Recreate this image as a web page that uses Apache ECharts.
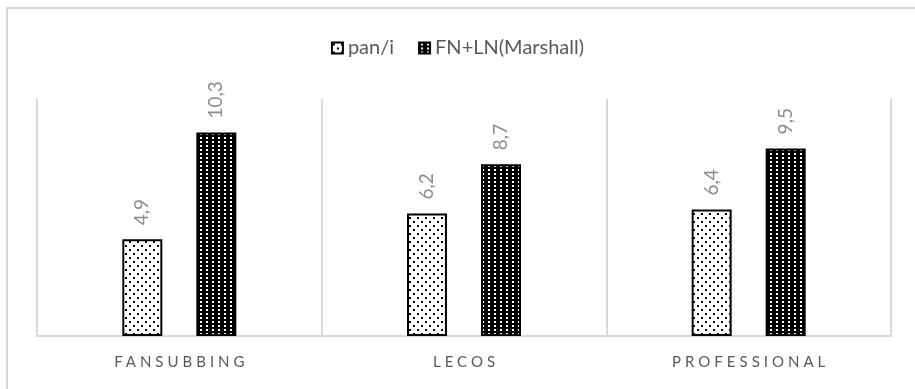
<!DOCTYPE html>
<html>
<head>
<meta charset="utf-8">
<script src="https://cdn.jsdelivr.net/npm/echarts@6/dist/echarts.min.js"></script>
<style>
  html, body { margin: 0; padding: 0; background: #fff; }
  #chart { width: 915px; height: 389px; }
</style>
</head>
<body>
<div id="chart"></div>
<script>
// Categories and series values
const categories = ['FANSUBBING', 'LECOS', 'PROFESSIONAL'];
const seriesNames = ['pan/i', 'FN+LN(Marshall)'];
const panValues = [4.9, 6.2, 6.4];
const fnlnValues = [10.3, 8.7, 9.5];

const FONT = 'Lato';
const TRACKING = 4;

// Tracked letter spacing for the category labels only
const spacedTexts = new Set(categories);
const origFill = CanvasRenderingContext2D.prototype.fillText;
CanvasRenderingContext2D.prototype.fillText = function (text, x, y, maxW) {
  if (spacedTexts.has(text) && 'letterSpacing' in this) {
    const prevAlign = this.textAlign;
    this.letterSpacing = TRACKING + 'px';
    const w = this.measureText(text).width;
    let sx = x;
    if (prevAlign === 'center') { this.textAlign = 'left'; sx = x - (w - TRACKING) / 2; }
    origFill.call(this, text, sx, y);
    this.letterSpacing = '0px';
    this.textAlign = prevAlign;
    return;
  }
  if ('letterSpacing' in this) this.letterSpacing = '0px';
  return maxW === undefined ? origFill.call(this, text, x, y) : origFill.call(this, text, x, y, maxW);
};

// Fill patterns
function dottedPattern() {
  const c = document.createElement('canvas');
  c.width = 8; c.height = 8;
  const g = c.getContext('2d');
  g.fillStyle = '#ffffff'; g.fillRect(0, 0, 8, 8);
  g.fillStyle = '#000000';
  g.fillRect(1, 1, 2, 2);
  g.fillRect(5, 5, 2, 2);
  return c;
}
function gridPattern() {
  const c = document.createElement('canvas');
  c.width = 6; c.height = 4;
  const g = c.getContext('2d');
  g.fillStyle = '#000000'; g.fillRect(0, 0, 6, 4);
  g.fillStyle = '#ffffff';
  g.fillRect(2, 1, 2, 2);
  return c;
}

const valueLabel = {
  show: true,
  position: 'top',
  distance: 14,
  rotate: 90,
  align: 'left',
  verticalAlign: 'middle',
  color: '#8c8c8c',
  fontFamily: FONT,
  fontSize: 19,
  formatter: p => String(p.value).replace('.', ',')
};

const chart = echarts.init(document.getElementById('chart'), null, { renderer: 'canvas' });
chart.setOption({
  animation: false,
  backgroundColor: '#ffffff',
  graphic: [{
    type: 'rect',
    shape: { x: 7, y: 8, width: 1000, height: 500 },
    style: { fill: 'none', stroke: '#d9d9d9', lineWidth: 2 },
    silent: true,
    z: -10
  }],
  legend: {
    top: 33,
    left: 'center',
    icon: 'rect',
    itemWidth: 11,
    itemHeight: 11,
    itemGap: 24,
    textStyle: { color: '#595959', fontFamily: FONT, fontSize: 20 },
    data: seriesNames
  },
  grid: { left: 37, right: 24, top: 99, bottom: 53 },
  xAxis: {
    type: 'category',
    data: categories,
    axisLine: { show: true, lineStyle: { color: '#d9d9d9', width: 2 } },
    axisTick: { show: false },
    splitLine: { show: true, lineStyle: { color: '#d9d9d9', width: 2 } },
    axisLabel: { color: '#595959', fontFamily: FONT, fontSize: 15, margin: 19 }
  },
  yAxis: {
    type: 'value',
    min: 0,
    max: 12,
    show: false,
    splitLine: { show: false }
  },
  series: [
    {
      name: seriesNames[0],
      type: 'bar',
      data: panValues,
      barWidth: 40,
      barGap: '85%',
      itemStyle: { color: { image: dottedPattern(), repeat: 'repeat' }, borderColor: '#000', borderWidth: 2 },
      label: valueLabel
    },
    {
      name: seriesNames[1],
      type: 'bar',
      data: fnlnValues,
      barWidth: 40,
      itemStyle: { color: { image: gridPattern(), repeat: 'repeat' }, borderColor: '#000', borderWidth: 2 },
      label: valueLabel
    }
  ]
});
</script>
</body>
</html>
